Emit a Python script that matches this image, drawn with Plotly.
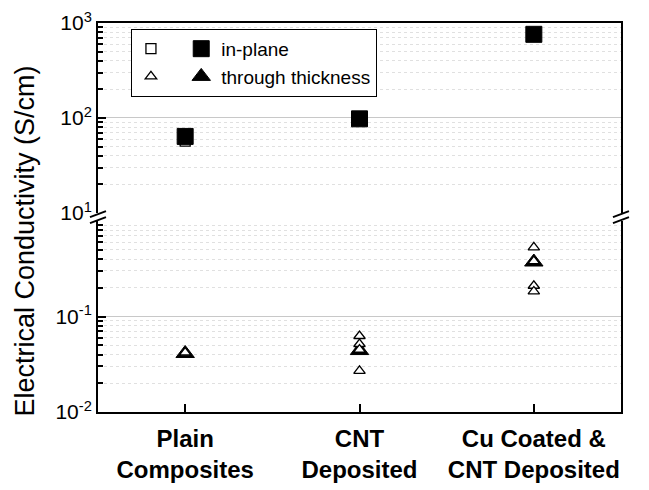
import plotly.graph_objects as go

categories = ["Plain<br>Composites", "CNT<br>Deposited", "Cu Coated &amp;<br>CNT Deposited"]

# in-plane conductivity (S/cm)
inplane_open_x = [categories[0], categories[1], categories[2]]
inplane_open_y = [57, 98, 760]
inplane_mean_x = [categories[0], categories[1], categories[2]]
inplane_mean_y = [64, 98, 760]

# through-thickness conductivity (S/cm)
thru_open_x = [categories[0], categories[0],
               categories[1], categories[1], categories[1], categories[1],
               categories[2], categories[2], categories[2], categories[2]]
thru_open_y = [0.041, 0.042,
               0.0625, 0.0515, 0.045, 0.027,
               0.53, 0.38, 0.21, 0.183]
thru_mean_x = [categories[0], categories[1], categories[2]]
thru_mean_y = [0.041, 0.044, 0.372]

upper_ticks = [10, 100, 1000]
upper_text = ["10<sup>1</sup>", "10<sup>2</sup>", "10<sup>3</sup>"]
lower_ticks = [0.01, 0.1]
lower_text = ["10<sup>-2</sup>", "10<sup>-1</sup>"]
upper_minor = [m * 10 ** e for e in (1, 2) for m in range(2, 10)]
lower_minor = [m * 10 ** e for e in (-2, -1) for m in range(2, 10)]

FONT = "Liberation Sans, Arial, sans-serif"

fig = go.Figure()

fig.add_trace(go.Scatter(
    x=inplane_open_x, y=inplane_open_y, xaxis="x2", yaxis="y2", mode="markers",
    marker=dict(symbol="square", size=10, color="white", line=dict(color="black", width=1.3)),
    name=" ", legendgroup="open", showlegend=True))
fig.add_trace(go.Scatter(
    x=inplane_mean_x, y=inplane_mean_y, xaxis="x2", yaxis="y2", mode="markers",
    marker=dict(symbol="square", size=16, color="black", line=dict(color="black", width=1)),
    name="in-plane", legendgroup="mean", showlegend=True))
fig.add_trace(go.Scatter(
    x=thru_mean_x, y=thru_mean_y, xaxis="x", yaxis="y", mode="markers",
    marker=dict(symbol="triangle-up", size=16, color="black", line=dict(color="black", width=1)),
    name="through thickness", legendgroup="mean", showlegend=True))
fig.add_trace(go.Scatter(
    x=thru_open_x, y=thru_open_y, xaxis="x", yaxis="y", mode="markers",
    marker=dict(symbol="triangle-up", size=10, color="white", line=dict(color="black", width=1.3)),
    name=" ", legendgroup="open", showlegend=True))

axis_common = dict(showline=True, linecolor="black", linewidth=2, mirror=True, automargin=False)

fig.update_layout(
    width=641, height=482,
    margin=dict(l=90, r=28, t=15, b=78, autoexpand=False),
    paper_bgcolor="white", plot_bgcolor="white",
    font=dict(family=FONT, color="black"),
    xaxis=dict(
        type="category", categoryorder="array", categoryarray=categories,
        range=[-0.5, 2.5], anchor="y", showgrid=False, automargin=False,
        ticks="inside", ticklen=8, tickwidth=1.5, tickcolor="black",
        tickfont=dict(family=FONT, size=24, weight="bold"), ticklabelstandoff=4,
        showline=True, linecolor="black", linewidth=2, mirror=False,
    ),
    xaxis2=dict(
        matches="x", anchor="y2", side="top", showgrid=False, automargin=False,
        showticklabels=False, ticks="",
        showline=True, linecolor="black", linewidth=2,
    ),
    yaxis=dict(
        type="log", domain=[0, 0.491], range=[-2, 0], anchor="x",
        tickvals=lower_ticks, ticktext=lower_text,
        ticks="inside", ticklen=8, tickwidth=1.5, tickcolor="black",
        tickfont=dict(family=FONT, size=21),
        showgrid=True, gridcolor="#c8c8c8", gridwidth=1,
        minor=dict(tickmode="array", tickvals=lower_minor, ticks="inside", ticklen=5,
                   tickwidth=1.5, tickcolor="black", showgrid=True,
                   gridcolor="#e0e0e0", griddash="dot", gridwidth=1),
        **axis_common,
    ),
    yaxis2=dict(
        type="log", domain=[0.5116, 1], range=[1, 3], anchor="x2",
        tickvals=upper_ticks, ticktext=upper_text,
        ticks="inside", ticklen=8, tickwidth=1.5, tickcolor="black",
        tickfont=dict(family=FONT, size=21),
        showgrid=True, gridcolor="#c8c8c8", gridwidth=1,
        minor=dict(tickmode="array", tickvals=upper_minor, ticks="inside", ticklen=5,
                   tickwidth=1.5, tickcolor="black", showgrid=True,
                   gridcolor="#e0e0e0", griddash="dot", gridwidth=1),
        **axis_common,
    ),
    legend=dict(
        orientation="h", traceorder="grouped",
        x=0.063, y=0.985, xanchor="left", yanchor="top",
        bordercolor="black", borderwidth=1, bgcolor="white",
        font=dict(family=FONT, size=19), tracegroupgap=0,
    ),
    showlegend=True,
)

# y-axis title spanning both panels
fig.add_annotation(
    text="Electrical Conductivity (S/cm)", xref="paper", yref="paper",
    x=-0.14, y=0.44, xanchor="center", yanchor="middle", textangle=-90,
    showarrow=False, font=dict(family=FONT, size=27, color="black"))

# axis break marks
gap_y = 0.501
for xa in (0, 1):
    for dy in (-3, 3):
        fig.add_shape(
            type="line", xref="paper", yref="paper",
            xsizemode="pixel", ysizemode="pixel", xanchor=xa, yanchor=gap_y,
            x0=-8, x1=8, y0=dy - 3, y1=dy + 3,
            line=dict(color="black", width=2))

fig.write_html("out.html")
